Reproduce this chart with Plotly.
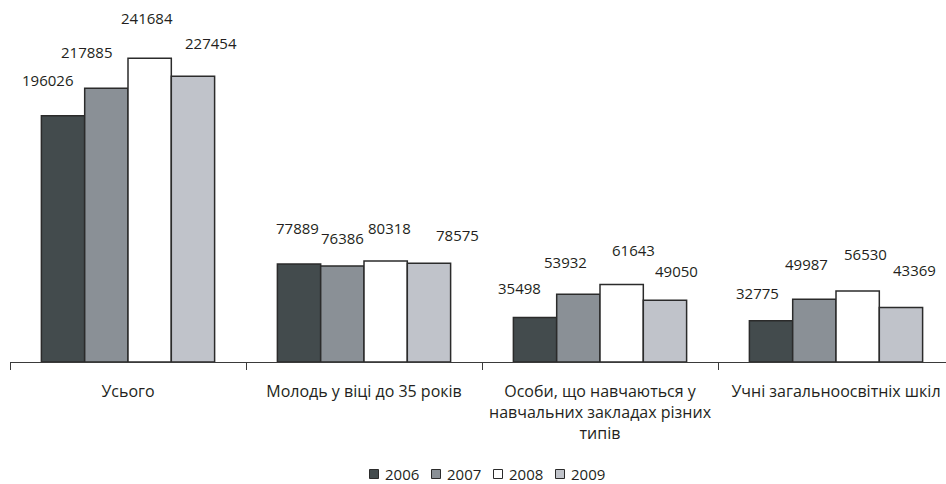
import plotly.graph_objects as go

# ---------------- data ----------------
categories = [
    "Усього",
    "Молодь у віці до 35 років",
    "Особи, що навчаються у навчальних закладах різних типів",
    "Учні загальноосвітніх шкіл",
]
tick_labels = [
    "Усього",
    "Молодь у віці до 35 років",
    "Особи, що навчаються у<br>навчальних закладах різних<br>типів",
    "Учні загальноосвітніх шкіл",
]
years = ["2006", "2007", "2008", "2009"]
v2006 = [196026, 77889, 35498, 32775]
v2007 = [217885, 76386, 53932, 49987]
v2008 = [241684, 80318, 61643, 56530]
v2009 = [227454, 78575, 49050, 43369]
series = [v2006, v2007, v2008, v2009]

# ---------------- styles ----------------
colors = ["#434b4d", "#8a9096", "#ffffff", "#c0c3ca"]
edge = "#2b2b2b"
text_color = "#231f20"
font_family = "Open Sans, Noto Sans, DejaVu Sans, sans-serif"

# label offsets (px) relative to bar top centre, per series, per category
label_dx = [[-15.5, -1.6, -16, -14],
            [-20, 0.5, -13, -8],
            [-2.5, 3.6, 12, 8],
            [18.5, 29, 12, 14]]
label_dy = [[35.7, 36, 29, 27.5],
            [36, 28, 32, 35],
            [40, 33, 34.5, 37],
            [33, 28, 29, 37.5]]

W, H = 946, 484
ML, MR, MT, MB = 10, 0, 0, 122
plot_w = W - ML - MR
plot_h = H - MT - MB
cat_px = 236.0
bargap = 0.266
bar_px = cat_px * (1 - bargap) / len(years)
y_max = plot_h * 795.8

fig = go.Figure()
for i, (yr, vals) in enumerate(zip(years, series)):
    fig.add_trace(go.Bar(
        name=yr, x=categories, y=vals,
        marker=dict(color=colors[i], line=dict(color=edge, width=1.5)),
        showlegend=False, hoverinfo="x+y+name",
    ))

annotations = []
for i, vals in enumerate(series):
    for j, v in enumerate(vals):
        annotations.append(dict(
            x=categories[j], y=v, xref="x", yref="y",
            text=str(v), showarrow=False,
            xshift=(i - 1.5) * bar_px + label_dx[i][j],
            yshift=label_dy[i][j],
            yanchor="middle", xanchor="center",
            font=dict(family=font_family, size=15, color=text_color),
        ))

# custom compact legend
shapes = []
sq = 9
gap = 6
txt_w = 36
item_gap = 11
pitch = sq + gap + txt_w + item_gap
total = len(years) * pitch - item_gap
start_px = 488 - total / 2
leg_y_px = 474


def px_to_paper_x(px):
    return (px - ML) / plot_w


def py_to_paper_y(py):
    return (H - MB - py) / plot_h


for i, yr in enumerate(years):
    x0 = start_px + i * pitch
    shapes.append(dict(
        type="rect", xref="paper", yref="paper",
        x0=px_to_paper_x(x0), x1=px_to_paper_x(x0 + sq),
        y0=py_to_paper_y(leg_y_px + sq / 2), y1=py_to_paper_y(leg_y_px - sq / 2),
        fillcolor=colors[i], line=dict(color=edge, width=1),
    ))
    annotations.append(dict(
        x=px_to_paper_x(x0 + sq + gap - 2), y=py_to_paper_y(leg_y_px),
        xref="paper", yref="paper", text=yr, showarrow=False,
        xanchor="left", yanchor="middle",
        font=dict(family=font_family, size=15, color=text_color),
    ))

fig.update_layout(
    width=W, height=H,
    margin=dict(l=ML, r=MR, t=MT, b=MB),
    paper_bgcolor="white", plot_bgcolor="white",
    barmode="group", bargap=bargap, bargroupgap=0,
    font=dict(family=font_family, size=15, color=text_color),
    annotations=annotations, shapes=shapes,
    showlegend=False,
)
fig.update_xaxes(
    type="category",
    range=[-0.5, -0.5 + plot_w / cat_px],
    tickmode="array", tickvals=categories, ticktext=tick_labels,
    showline=True, linecolor="#3a3a3a", linewidth=1,
    ticks="outside", tickson="boundaries", ticklen=7, tickcolor="#3a3a3a",
    ticklabelstandoff=15,
    showgrid=False, zeroline=False,
    tickfont=dict(family=font_family, size=16, color=text_color),
)
fig.update_yaxes(
    range=[0, y_max], visible=False, showgrid=False, zeroline=False,
)

fig.write_html(
    "out.html",
    config={"displayModeBar": False},
    post_script="document.body.style.margin='0px';document.body.style.overflow='hidden';",
)
